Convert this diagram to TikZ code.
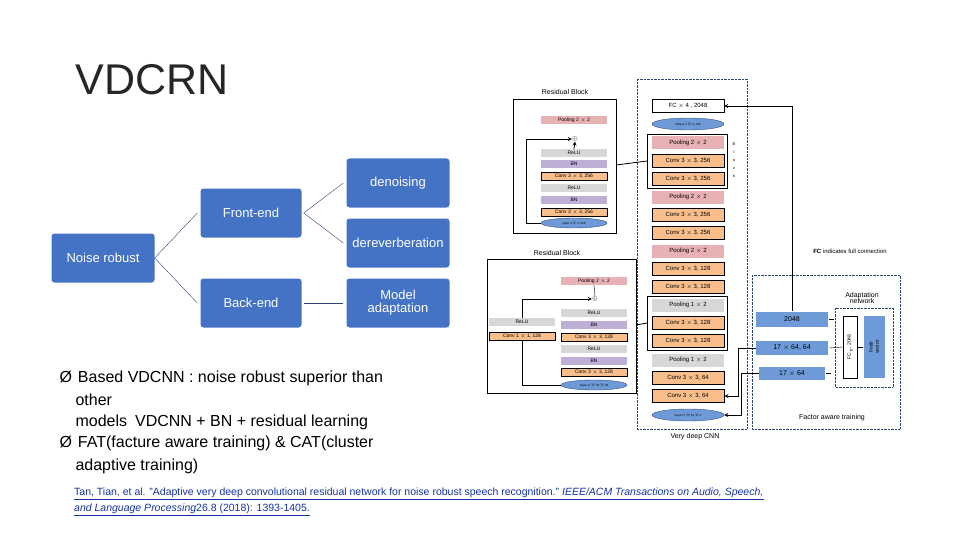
\documentclass[tikz,border=0pt]{standalone}
\usepackage{fontspec}
\setmainfont{Liberation Sans}
\usetikzlibrary{positioning, shapes.geometric}
\definecolor{boxblue}{RGB}{68,114,196}
\definecolor{figblue}{RGB}{110,155,215}
\definecolor{pool}{RGB}{232,178,180}
\definecolor{conv}{RGB}{248,190,140}
\definecolor{bnc}{RGB}{190,175,215}
\definecolor{relu}{RGB}{215,215,215}
\definecolor{link}{RGB}{20,50,160}
\begin{document}
\begin{tikzpicture}[x=1pt, y=-1pt,
    tree/.style={rectangle, rounded corners=3pt, fill=boxblue, text=white, minimum width=103pt, minimum height=49pt, align=center, font=\fontsize{13}{15}\selectfont, inner sep=1pt},
    branch/.style={draw=boxblue!60!black, thin},
    lay/.style={rectangle, minimum width=72pt, minimum height=13pt, inner sep=0pt, font=\fontsize{6}{7}\selectfont},
    pl/.style={lay, fill=pool},
    cv/.style={lay, fill=conv, draw=black, thick},
    gr/.style={lay, fill=relu},
    sm/.style={rectangle, minimum width=66pt, minimum height=8pt, inner sep=0pt, font=\fontsize{5}{6}\selectfont},
    blu/.style={rectangle, fill=figblue, inner sep=0pt, font=\fontsize{7}{8}\selectfont},
    oval/.style={ellipse, fill=figblue, draw=boxblue!70!black, minimum width=72pt, minimum height=12pt, inner sep=0pt, font=\fontsize{3}{4}\selectfont},
    dots/.style={draw=boxblue!60!black, densely dotted},
    lnk/.style={->, >=stealth, thick}
    ]
    \useasboundingbox (0,0) rectangle (960,540);
    % Title
    \node[font=\fontsize{43}{45}\selectfont, text=black!85, preaction={}] (title) at (152,80) {\special{}VDCRN};
    % Tree
    \node[tree] (noise) at (103,258) {Noise robust};
    \node[tree, minimum width=101pt] (front) at (251,213) {Front-end};
    \node[tree, minimum width=101pt] (back) at (251,303) {Back-end};
    \node[tree] (deno) at (398,183) {denoising};
    \node[tree] (derev) at (398,243) {dereverberation};
    \node[tree] (model) at (398,303) {Model\\[-2pt]adaptation};
    \draw[branch] (noise.east) -- ([xshift=-3pt]front.west);
    \draw[branch] (noise.east) -- ([xshift=-3pt]back.west);
    \draw[branch] ([xshift=2pt]front.east) -- ([xshift=-3pt]deno.west);
    \draw[branch] ([xshift=2pt]front.east) -- ([xshift=-3pt]derev.west);
    \draw[branch, thick] ([xshift=2pt]back.east) -- ([xshift=-3pt]model.west);
    % Bullets
    \begin{scope}[font=\fontsize{16}{18}\selectfont]
      \node[anchor=west] (b1) at (56,378) {Ø\hspace{6pt}Based VDCNN : noise robust superior than};
      \node[anchor=west] (b2) at (72,400) {other};
      \node[anchor=west] (b3) at (72,422) {models\hspace{8pt}VDCNN + BN + residual learning};
      \node[anchor=west] (b4) at (56,443) {Ø\hspace{6pt}FAT(facture aware training) \& CAT(cluster};
      \node[anchor=west] (b5) at (72,466) {adaptive training)};
    \end{scope}
    % Citation
    \begin{scope}[font=\fontsize{10.5}{12}\selectfont, text=link]
      \node[anchor=west, inner sep=0pt] (c1) at (74,493) {Tan, Tian, et al. "Adaptive very deep convolutional residual network for noise robust speech recognition." \textit{IEEE/ACM Transactions on Audio, Speech,}};
      \node[anchor=west, inner sep=0pt] (c2) at (74,509) {\textit{and Language Processing}26.8 (2018): 1393-1405.};
      \draw[link, thin] ([yshift=-1pt]c1.south west) -- ([yshift=-1pt]c1.south east);
      \draw[link, thin] ([yshift=-1pt]c2.south west) -- ([yshift=-1pt]c2.south east);
    \end{scope}
    % Very deep CNN column
    \draw[dots] (637,79) rectangle (747,429);
    \node[font=\fontsize{7}{8}\selectfont] (vdcnn) at (695,437) {Very deep CNN};
    \node[lay, draw=black] (fc) at (688,106) {FC $\times$ 4 , 2048};
    \node[oval] (out) at (688,124) {Output 2$\times$2, 256};
    \node[pl] (p1) at (688,143) {Pooling 2 $\times$ 2};
    \node[cv] (c11) at (688,161) {Conv 3 $\times$ 3, 256};
    \node[cv] (c12) at (688,179) {Conv 3 $\times$ 3, 256};
    \node[pl] (p2) at (688,197) {Pooling 2 $\times$ 2};
    \node[cv] (c21) at (688,215) {Conv 3 $\times$ 3, 256};
    \node[cv] (c22) at (688,233) {Conv 3 $\times$ 3, 256};
    \node[pl] (p3) at (688,251) {Pooling 2 $\times$ 2};
    \node[cv] (c31) at (688,269) {Conv 3 $\times$ 3, 128};
    \node[cv] (c32) at (688,287) {Conv 3 $\times$ 3, 128};
    \node[gr] (p4) at (688,305) {Pooling 1 $\times$ 2};
    \node[cv] (c41) at (688,323) {Conv 3 $\times$ 3, 128};
    \node[cv] (c42) at (688,341) {Conv 3 $\times$ 3, 128};
    \node[gr] (p5) at (688,360) {Pooling 1 $\times$ 2};
    \node[cv] (c51) at (688,378) {Conv 3 $\times$ 3, 64};
    \node[cv] (c52) at (688,396) {Conv 3 $\times$ 3, 64};
    \node[oval] (inp) at (688,415) {Input 17$\times$64$\times$3};
    \draw[thick] (647,134) rectangle (727,188);
    \draw[thick] (647,296) rectangle (727,350);
    \node[font=\fontsize{4}{5}\selectfont, align=center, inner sep=0pt] (blk) at (734,160) {B\\[3pt]l\\[3pt]o\\[3pt]c\\[3pt]k};
    % Residual block 1
    \node[font=\fontsize{7}{8}\selectfont] (rt1) at (565,92) {Residual Block};
    \draw[thick] (513,99) rectangle (616,233);
    \node[sm, fill=pool] (r1p) at (574,120) {Pooling 2 $\times$ 2};
    \node[inner sep=0pt, font=\fontsize{6}{6}\selectfont] (r1s) at (575,139) {$\oplus$};
    \node[sm, fill=relu] (r1a) at (574,153) {ReLU};
    \node[sm, fill=bnc] (r1b) at (574,164) {BN};
    \node[sm, fill=conv, draw=black, thick] (r1c) at (574,176) {Conv 3 $\times$ 3, 256};
    \node[sm, fill=relu] (r1d) at (574,188) {ReLU};
    \node[sm, fill=bnc] (r1e) at (574,200) {BN};
    \node[sm, fill=conv, draw=black, thick] (r1f) at (574,212) {Conv 3 $\times$ 3, 256};
    \node[oval, minimum width=66pt, minimum height=10pt] (r1i) at (574,223) {Input 4$\times$4, 256};
    \draw[lnk] (r1i.west) -- ++(-14,0) |- (r1s.west);
    \draw[lnk] (r1a.north) -- (r1s.south);
    \draw[thick] (616,165) -- (647,161);
    % Residual block 2
    \node[font=\fontsize{7}{8}\selectfont] (rt2) at (557,253) {Residual Block};
    \draw[thick] (487,259) rectangle (636,393);
    \node[sm, fill=pool] (r2p) at (594,281) {Pooling 2 $\times$ 2};
    \node[inner sep=0pt, font=\fontsize{6}{6}\selectfont] (r2s) at (595,299) {$\oplus$};
    \node[sm, fill=relu] (r2a) at (594,313) {ReLU};
    \node[sm, fill=bnc] (r2b) at (594,325) {BN};
    \node[sm, fill=conv, draw=black, thick] (r2c) at (594,337) {Conv 3 $\times$ 3, 128};
    \node[sm, fill=relu] (r2d) at (594,349) {ReLU};
    \node[sm, fill=bnc] (r2e) at (594,361) {BN};
    \node[sm, fill=conv, draw=black, thick] (r2f) at (594,372) {Conv 3 $\times$ 3, 128};
    \node[oval, minimum width=66pt, minimum height=10pt] (r2i) at (594,385) {Input 17$\times$64$\times$64};
    \node[sm, fill=relu] (r2g) at (522,322) {ReLU};
    \node[sm, fill=conv, draw=black, thick] (r2h) at (522,336) {Conv 1 $\times$ 1, 128};
    \draw[lnk] (r2i.west) -| (r2h.south) (r2g.north) |- (r2s.west);
    \draw (r2p.south) -- (r2s.north);
    \draw[thick] (636,325) -- (647,323);
    % Factor aware training
    \draw[dots] (752,275) rectangle (900,429);
    \node[font=\fontsize{7}{8}\selectfont] (fat) at (832,418) {Factor aware training};
    \node[font=\fontsize{6}{7}\selectfont] (fcnote) at (850,251) {\textbf{FC} indicates full connection};
    \node[blu, minimum width=72pt, minimum height=15pt] (f1) at (792,319) {2048};
    \node[blu, minimum width=72pt, minimum height=14pt] (f2) at (792,348) {17 $\times$ 64, 64};
    \node[blu, minimum width=66pt, minimum height=13pt] (f3) at (792,373) {17 $\times$ 64};
    \draw[dots] (835,308) rectangle (893,387);
    \node[font=\fontsize{7}{8}\selectfont, align=center] (adapt) at (862,298) {Adaptation\\[-2pt]network};
    \node[draw=black, fill=white, minimum width=62pt, minimum height=14pt, inner sep=0pt, rotate=90, font=\fontsize{5}{6}\selectfont] (fcy) at (850,347) {FC$_y$, 2048};
    \node[blu, minimum width=62pt, minimum height=21pt, rotate=90, font=\fontsize{5}{6}\selectfont, align=center] (fmllr) at (874,347) {Fmllr\\vector};
    \draw ([xshift=1pt]f1.east) -- ++(5,0);
    \draw ([xshift=1pt]f2.east) -- (fcy.north);
    \draw ([xshift=1pt]f3.east) -- ++(5,0);
    \draw (fcy.south) -- (fmllr.north);
    \draw[lnk] (f1.north) |- (fc.east);
    \draw[lnk] (f2.west) -- ++(-17,0) |- (c52.east);
    \draw[lnk] (f3.west) -- ++(-17,0) |- (inp.east);
\end{tikzpicture}
\end{document}
